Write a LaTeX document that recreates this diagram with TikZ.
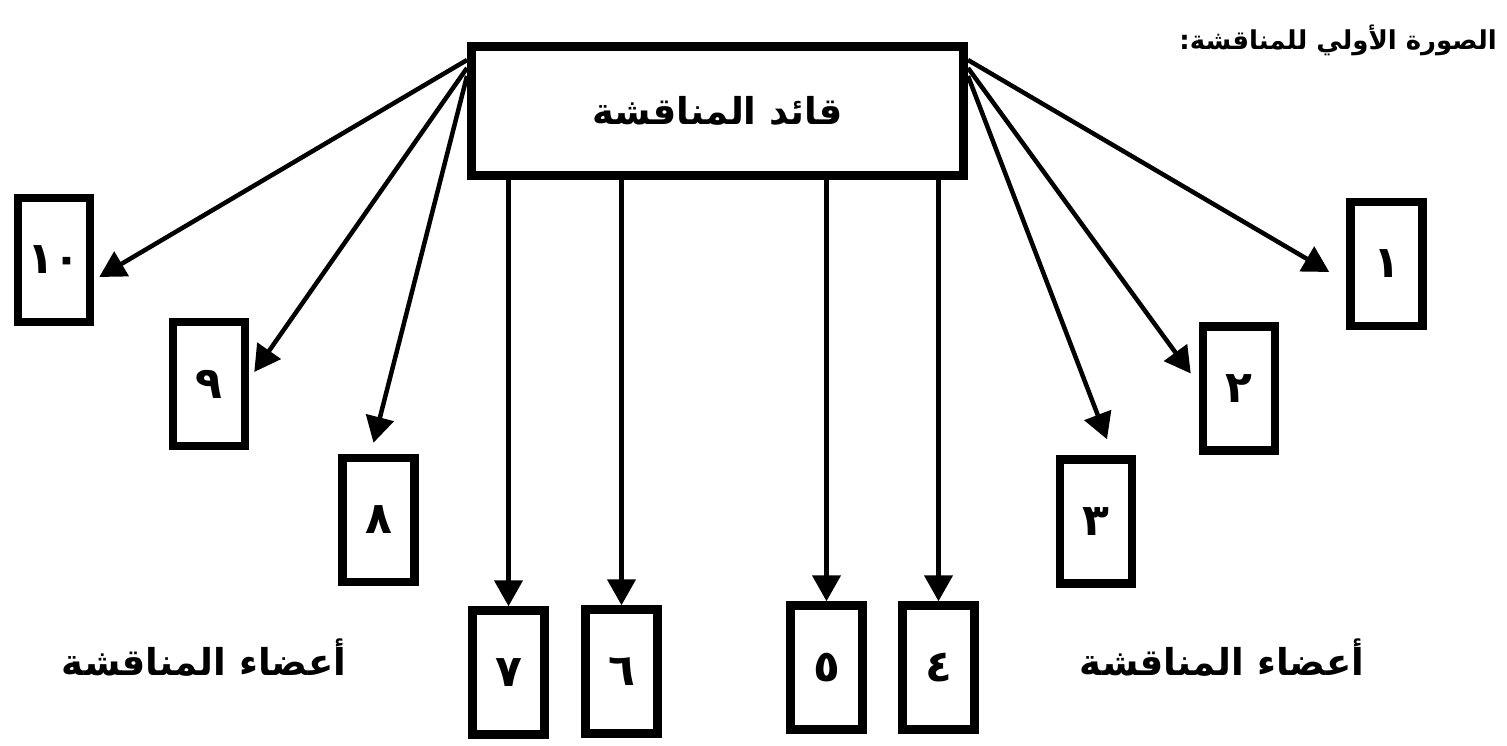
\documentclass[tikz,border=0pt]{standalone}
\usepackage{fontspec}
\usetikzlibrary{arrows.meta}
\TeXXeTstate=1
\newfontfamily\arabicfont[Script=Arabic]{DejaVu Sans}
\begin{document}
\begin{tikzpicture}[x=1pt,y=-1pt,
  leaderbox/.style={draw,line width=9pt,minimum width=492pt,minimum height=129pt,inner sep=0pt},
  memberbox/.style={draw,line width=8.5pt,minimum width=72pt,minimum height=124pt,inner sep=0pt,
    font=\arabicfont\bfseries\fontsize{44}{50}\selectfont},
  arr/.style={line width=4.5pt,-{Triangle[length=26pt,width=28pt]}},
  lbl/.style={font=\arabicfont\bfseries\fontsize{37}{42}\selectfont,inner sep=0pt},
  ttl/.style={font=\arabicfont\bfseries\fontsize{26}{31}\selectfont,inner sep=0pt}]
\useasboundingbox (0,0) rectangle (1507,745);

% discussion leader
\node[leaderbox,lbl] (main) at (717.5,111) {\beginR قائد المناقشة\endR};

% discussion members
\node[memberbox] (b1)  at (1386.5,264)  {١};
\node[memberbox] (b2)  at (1239,388.5)  {٢};
\node[memberbox] (b3)  at (1096,521.5)  {٣};
\node[memberbox] (b4)  at (938.5,667.5) {٤};
\node[memberbox] (b5)  at (826.5,667.5) {٥};
\node[memberbox] (b6)  at (621.5,671.5) {٦};
\node[memberbox] (b7)  at (508.5,672.5) {٧};
\node[memberbox] (b8)  at (378.5,520)   {٨};
\node[memberbox] (b9)  at (209,384)     {٩};
\node[memberbox] (b10) at (54,260)      {١٠};

% left fan
\draw[arr] ([yshift=-18pt]main.north west) -- ([xshift=5pt,yshift=-17pt]b10.east);
\draw[arr] ([yshift=-26pt]main.north west) -- ([xshift=5pt,yshift=12pt]b9.east);
\draw[arr] ([yshift=-34pt]main.north west) -- ([xshift=-5pt,yshift=11pt]b8.north);

% right fan
\draw[arr] ([yshift=-18pt]main.north east) -- ([xshift=-17pt,yshift=-8pt]b1.west);
\draw[arr] ([yshift=-26pt]main.north east) -- ([xshift=-8pt,yshift=15pt]b2.west);
\draw[arr] ([yshift=-34pt]main.north east) -- ([xshift=11pt,yshift=16pt]b3.north);

% straight down
\draw[arr] (b7.north |- main.south) -- (b7.north);
\draw[arr] (b6.north |- main.south) -- (b6.north);
\draw[arr] (b5.north |- main.south) -- (b5.north);
\draw[arr] (b4.north |- main.south) -- (b4.north);

% captions
\node[ttl,anchor=east] (title) at (1497,40) {\beginR الصورة الأولي للمناقشة:\endR};
\node[lbl] (memL) at (204,658) {\beginR أعضاء المناقشة\endR};
\node[lbl] (memR) at (1222,658) {\beginR أعضاء المناقشة\endR};
\end{tikzpicture}
\end{document}
